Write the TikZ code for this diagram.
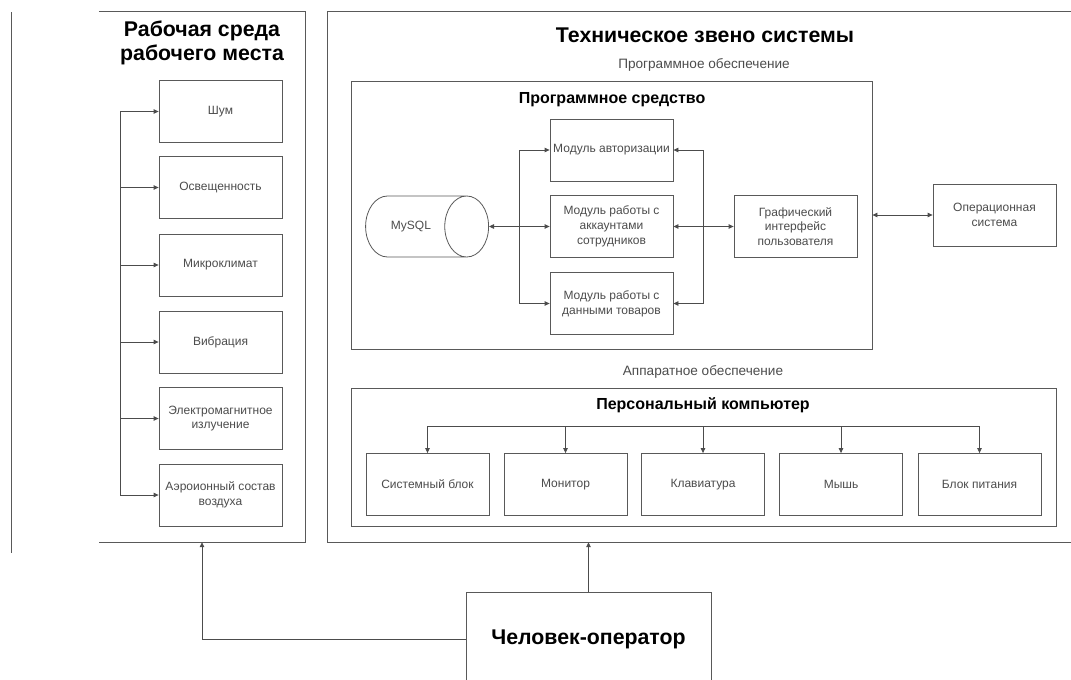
\documentclass[tikz,border=0pt]{standalone}
\usepackage{fontspec}
\setmainfont{Liberation Sans}
\usepackage{tikz}
\usepackage{xcolor}
\usetikzlibrary{calc, shapes.geometric, arrows.meta, positioning}

\begin{document}
\begin{tikzpicture}[
        x=1pt, y=-1pt,
        % Estilo para los bloques simples
        block/.style={
            rectangle,
            draw=black!65,
            line width=0.8pt,
            fill=white,
            text=black!70,
            align=center,
            minimum width=123pt,
            minimum height=62pt,
            inner sep=1pt,
            font=\fontsize{12}{14.8}\selectfont
        },
        % Estilo para los marcos abiertos
        panel/.style={
            rectangle,
            draw=none,
            inner sep=0pt
        },
        % Estilo para los grupos cerrados
        group/.style={
            rectangle,
            draw=black!65,
            line width=0.8pt,
            inner sep=0pt
        },
        % Estilo para las lineas de los marcos
        frame/.style={
            draw=black!65,
            line width=0.8pt
        },
        % Estilo para los titulos
        title/.style={
            align=center,
            font=\bfseries\fontsize{21.3}{24}\selectfont
        },
        subtitle/.style={
            align=center,
            font=\bfseries\fontsize{16}{19}\selectfont
        },
        caption/.style={
            text=black!70,
            font=\fontsize{13.6}{16}\selectfont
        },
        % Estilo para las flechas de una sola direccion
        arrow/.style={
            draw=black!70,
            line width=0.8pt,
            -{Triangle[length=5pt, width=4.5pt]}
        },
        % Estilo para las flechas bidireccionales
        biarrow/.style={
            draw=black!70,
            line width=0.8pt,
            {Triangle[length=5pt, width=4.5pt]}-{Triangle[length=5pt, width=4.5pt]}
        },
        line/.style={
            draw=black!70,
            line width=0.8pt
        }
    ]

        \useasboundingbox (0,0) rectangle (1071,680);

        % Linea suelta a la izquierda
        \draw[frame] (11,12) -- (11,553);

        % --- MARCOS ---
        \node[panel, minimum width=206pt, minimum height=530pt] (env) at (202, 277) {};
        \draw[frame] (env.north west) -- (env.north east) -- (env.south east) -- (env.south west);

        \node[panel, minimum width=754pt, minimum height=530pt] (tech) at (705, 277) {};
        \draw[frame] (tech.north east) -- (tech.north west) -- (tech.south west) -- (tech.south east);

        % Titulos
        \node[title] (envtitle) at (202, 43) {Рабочая среда\\рабочего места};
        \node[title] (techtitle) at (705, 35) {Техническое звено системы};
        \node[caption] (softcap) at (704, 65) {Программное обеспечение};
        \node[caption] (hwcap) at (703, 372) {Аппаратное обеспечение};

        % --- FACTORES DEL ENTORNO ---
        \node[block] (noise) at (220.5, 111.5) {Шум};
        \node[block] (light) at (220.5, 187.5) {Освещенность};
        \node[block] (climate) at (220.5, 265) {Микроклимат};
        \node[block] (vibration) at (220.5, 342) {Вибрация};
        \node[block] (emf) at (220.5, 418.5) {Электромагнитное\\излучение};
        \node[block] (aero) at (220.5, 495) {Аэроионный состав\\воздуха};

        % --- PROGRAMA ---
        \node[group, minimum width=521pt, minimum height=268pt] (soft) at (611.5, 215) {};
        \node[subtitle] (softtitle) at (612, 100) {Программное средство};

        \node[cylinder, draw=black!65, line width=0.8pt, text=black!70,
              font=\fontsize{12}{14}\selectfont, shape aspect=2.5, anchor=east,
              minimum width=61pt, minimum height=123pt] (mysql) at (489, 226.5) {MySQL};

        \node[block] (auth) at (611.5, 150) {Модуль авторизации};
        \node[block] (accounts) at (611.5, 226.5) {Модуль работы с\\аккаунтами\\сотрудников};
        \node[block] (goods) at (611.5, 303.5) {Модуль работы с\\данными товаров};

        \node[block] (gui) at (795.5, 226.5) {Графический\\интерфейс\\пользователя};
        \node[block] (os) at (994.5, 215) {Операционная\\система};

        % --- COMPUTADORA ---
        \node[group, minimum width=705pt, minimum height=138pt] (pc) at (703.5, 457) {};
        \node[subtitle] (pctitle) at (703, 405) {Персональный компьютер};

        \node[block] (sysunit) at (427.5, 484.5) {Системный блок};
        \node[block] (monitor) at (565.5, 484.5) {Монитор};
        \node[block] (keyboard) at (703, 484.5) {Клавиатура};
        \node[block] (mouse) at (841, 484.5) {Мышь};
        \node[block] (psu) at (979.5, 484.5) {Блок питания};

        % --- OPERADOR ---
        \node[block, text=black, font=\bfseries\fontsize{21.3}{24}\selectfont,
              minimum width=245pt, minimum height=94pt] (operator) at (588.5, 639) {Человек-оператор};

        % --- CONEXIONES ---
        \coordinate (envbus) at (120, 0);
        \coordinate (modbusL) at (519, 0);
        \coordinate (modbusR) at (703, 0);
        \coordinate (pcbus) at (0, 426);

        % 1. Bus del entorno
        \draw[line] (noise.west -| envbus) -- (aero.west -| envbus);
        \foreach \n in {noise, light, climate, vibration, emf, aero}
            \draw[arrow] (\n.west -| envbus) -- (\n.west);

        % 2. MySQL <-> modulos
        \draw[line] (auth.west -| modbusL) -- (goods.west -| modbusL);
        \draw[biarrow] (mysql.east) -- (accounts.west);
        \draw[arrow] (auth.west -| modbusL) -- (auth.west);
        \draw[arrow] (goods.west -| modbusL) -- (goods.west);

        % 3. Modulos <-> interfaz grafica
        \draw[line] (auth.east -| modbusR) -- (goods.east -| modbusR);
        \draw[biarrow] (accounts.east) -- (gui.west);
        \draw[arrow] (auth.east -| modbusR) -- (auth.east);
        \draw[arrow] (goods.east -| modbusR) -- (goods.east);

        % 4. Programa <-> sistema operativo
        \draw[biarrow] (soft.east |- os.west) -- (os.west);

        % 5. Computadora -> componentes
        \draw[line] (sysunit.north |- pcbus) -- (psu.north |- pcbus);
        \foreach \n in {sysunit, monitor, keyboard, mouse, psu}
            \draw[arrow] (\n.north |- pcbus) -- (\n.north);

        % 6. Operador -> marcos
        \draw[arrow] (operator.west) -| (env.south);
        \draw[arrow] (operator.north) -- (operator.north |- tech.south);

    \end{tikzpicture}
\end{document}
